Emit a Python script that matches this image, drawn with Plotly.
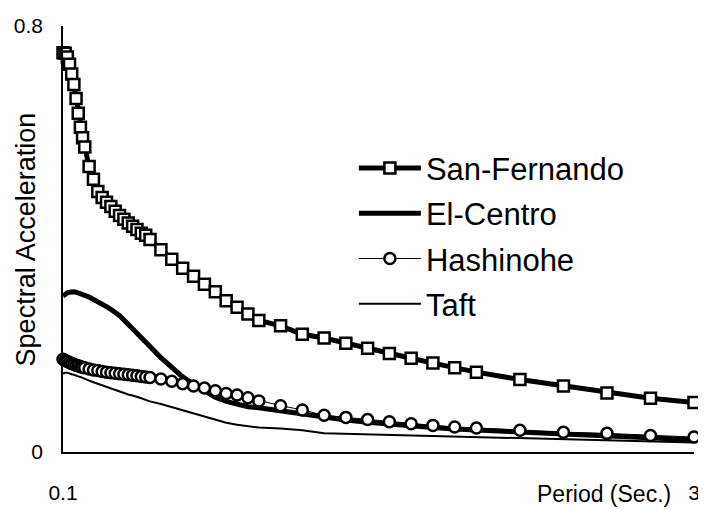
import plotly.graph_objects as go

periods = [0.10, 0.11, 0.12, 0.13, 0.14, 0.15, 0.16, 0.17, 0.18, 0.19, 0.20,
           0.22, 0.24, 0.26, 0.28, 0.30, 0.32, 0.34, 0.36, 0.38, 0.40, 0.42, 0.44, 0.46, 0.48, 0.50,
           0.55, 0.60, 0.65, 0.70, 0.75, 0.80, 0.85, 0.90, 0.95, 1.00,
           1.1, 1.2, 1.3, 1.4, 1.5, 1.6, 1.7, 1.8, 1.9, 2.0,
           2.2, 2.4, 2.6, 2.8, 3.0]

san_fernando = [0.750, 0.749, 0.742, 0.728, 0.710, 0.690, 0.664, 0.636, 0.610, 0.590, 0.573,
                0.536, 0.512, 0.489, 0.478, 0.469, 0.461, 0.452, 0.444, 0.437, 0.430, 0.424, 0.418, 0.411, 0.407, 0.399,
                0.380, 0.362, 0.345, 0.330, 0.315, 0.301, 0.284, 0.272, 0.259, 0.247,
                0.237, 0.221, 0.214, 0.204, 0.195, 0.185, 0.176, 0.167, 0.158, 0.150,
                0.136, 0.124, 0.111, 0.101, 0.093]

el_centro = [0.293, 0.297, 0.299, 0.300, 0.301, 0.301, 0.300, 0.299, 0.298, 0.296, 0.294,
             0.291, 0.287, 0.283, 0.278, 0.273, 0.268, 0.263, 0.256, 0.248, 0.240, 0.232, 0.225, 0.216, 0.207, 0.198,
             0.177, 0.158, 0.141, 0.127, 0.115, 0.103, 0.095, 0.089, 0.085, 0.083,
             0.077, 0.071, 0.064, 0.060, 0.056, 0.052, 0.049, 0.046, 0.043, 0.041,
             0.037, 0.033, 0.030, 0.027, 0.023]

hashinohe = [0.174, 0.172, 0.170, 0.168, 0.166, 0.165, 0.163, 0.162, 0.160, 0.159, 0.158,
             0.156, 0.154, 0.153, 0.151, 0.150, 0.149, 0.148, 0.147, 0.146, 0.145, 0.144, 0.143, 0.142, 0.141, 0.140,
             0.137, 0.133, 0.128, 0.124, 0.120, 0.115, 0.110, 0.107, 0.102, 0.096,
             0.087, 0.079, 0.069, 0.065, 0.061, 0.057, 0.053, 0.050, 0.047, 0.045,
             0.041, 0.037, 0.035, 0.031, 0.028]

taft = [0.147, 0.149, 0.149, 0.147, 0.146, 0.145, 0.143, 0.142, 0.141, 0.139, 0.137,
        0.134, 0.131, 0.128, 0.125, 0.122, 0.119, 0.116, 0.113, 0.110, 0.108, 0.106, 0.104, 0.101, 0.098, 0.095,
        0.090, 0.084, 0.078, 0.072, 0.066, 0.060, 0.055, 0.051, 0.048, 0.046,
        0.044, 0.041, 0.035, 0.034, 0.033, 0.032, 0.031, 0.030, 0.029, 0.028,
        0.026, 0.024, 0.022, 0.020, 0.018]

series_names = ["San-Fernando", "El-Centro", "Hashinohe", "Taft"]
x_tick_vals = [0.1, 3]
x_tick_text = ["0.1", "3"]
y_tick_vals = [0, 0.8]
y_tick_text = ["0", "0.8"]
y_title = "Spectral Acceleration"
x_title = "Period (Sec.)"

FONT = "Liberation Sans, Arial, sans-serif"

fig = go.Figure()
fig.add_trace(go.Scatter(
    x=periods, y=san_fernando, name=series_names[0], mode="lines+markers",
    line=dict(color="black", width=5),
    marker=dict(symbol="square", size=11, color="white", line=dict(color="black", width=2.5)),
    cliponaxis=False, legendgroup="a"))
fig.add_trace(go.Scatter(
    x=periods, y=el_centro, name=series_names[1], mode="lines",
    line=dict(color="black", width=5), cliponaxis=False, legendgroup="b"))
fig.add_trace(go.Scatter(
    x=periods, y=hashinohe, name=series_names[2], mode="lines+markers",
    line=dict(color="black", width=1),
    marker=dict(symbol="circle", size=11, color="white", line=dict(color="black", width=2.5)),
    cliponaxis=False, legendgroup="c"))
fig.add_trace(go.Scatter(
    x=periods, y=taft, name=series_names[3], mode="lines",
    line=dict(color="black", width=2), cliponaxis=False, legendgroup="d"))

# page body has an 8px default margin, so the figure is 8px smaller than the window
fig.update_layout(
    width=698, height=502,
    margin=dict(l=55, r=6, t=11, b=58),
    paper_bgcolor="white", plot_bgcolor="white",
    font=dict(family=FONT, color="black"),
    showlegend=True,
    legend=dict(x=0.461, y=0.7295, xanchor="left", yanchor="top",
                font=dict(size=31, family=FONT), bgcolor="rgba(0,0,0,0)",
                itemwidth=62, tracegroupgap=2, traceorder="grouped"),
    xaxis=dict(range=[0.1, 3], showgrid=False, zeroline=False,
               showline=True, linecolor="black", linewidth=1.5,
               ticks="inside", ticklen=6, tickcolor="black",
               tickvals=x_tick_vals, ticktext=x_tick_text,
               tickfont=dict(size=21), ticklabelstandoff=21,
               ticklabeloverflow="allow"),
    yaxis=dict(range=[0, 0.8], showgrid=False, zeroline=False,
               showline=True, linecolor="black", linewidth=1.5,
               ticks="inside", ticklen=7, tickcolor="black",
               tickvals=y_tick_vals, ticktext=y_tick_text,
               tickfont=dict(size=21), ticklabelstandoff=14,
               ticklabeloverflow="allow"),
    annotations=[
        dict(text=y_title, textangle=-90, xref="paper", yref="paper",
             x=-0.058, y=0.50, xanchor="center", yanchor="middle", showarrow=False,
             font=dict(size=27, family=FONT)),
        dict(text=x_title, xref="paper", yref="paper",
             x=0.857, y=-0.0993, xanchor="center", yanchor="middle", showarrow=False,
             font=dict(size=23, family=FONT)),
    ],
)

fig.write_html("out.html")
